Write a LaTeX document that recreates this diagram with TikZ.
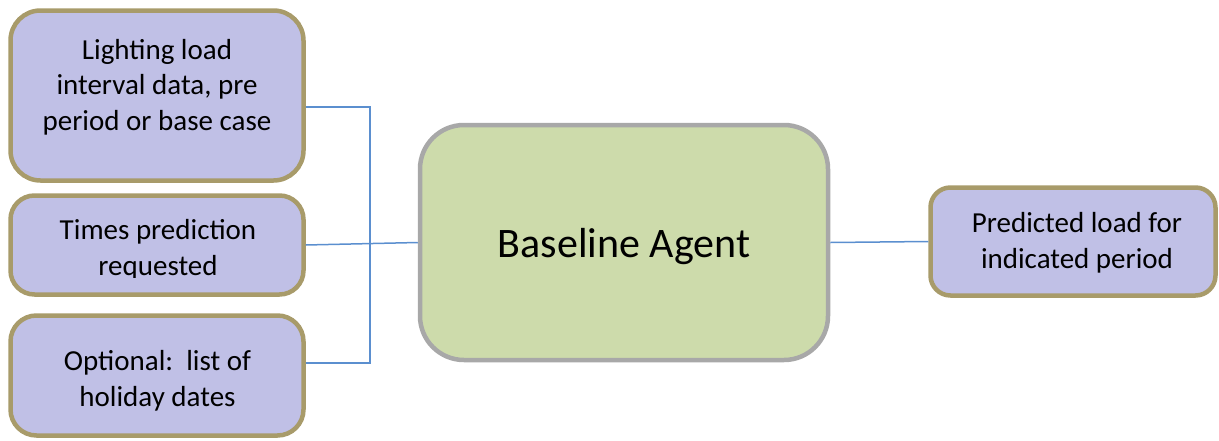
\documentclass[tikz,border=0pt]{standalone}
\usepackage{fontspec}
\setmainfont{Carlito}
\definecolor{inputfill}{HTML}{C0C0E6}
\definecolor{inputline}{HTML}{A89B6A}
\definecolor{agentfill}{HTML}{CDDBAB}
\definecolor{agentline}{HTML}{A8A8A8}
\definecolor{linkblue}{HTML}{5B8FCF}
\tikzset{
  inbox/.style={draw=inputline, fill=inputfill, line width=4.5pt, inner sep=0pt},
  agentbox/.style={draw=agentline, fill=agentfill, line width=4.5pt, inner sep=0pt,
    rounded corners=44pt},
  lbl/.style={align=center, inner sep=0pt, font=\fontsize{29}{35.5}\selectfont},
  biglbl/.style={inner sep=0pt, font=\fontsize{42}{50}\selectfont},
  link/.style={draw=linkblue, line width=1.5pt},
}
\begin{document}
\begin{tikzpicture}[x=1pt, y=-1pt]
\useasboundingbox (0,0) rectangle (1219,440);

% input boxes
\node[inbox, rounded corners=30pt, minimum width=293pt, minimum height=170pt] (b1) at (157,95.5) {};
\node[inbox, rounded corners=24pt, minimum width=293pt, minimum height=99pt] (b2) at (157,245) {};
\node[inbox, rounded corners=26pt, minimum width=293pt, minimum height=120pt] (b3) at (157,375.5) {};

% agent and output
\node[agentbox, minimum width=408pt, minimum height=235pt] (agent) at (624,242.5) {};
\node[inbox, rounded corners=20pt, minimum width=285pt, minimum height=108pt] (out) at (1073,241.5) {};

% texts
\node[lbl] (t1) at (157,87) {Lighting load\\interval data, pre\\period or base case};
\begin{scope}
  \clip (0,190) rectangle (320,277);
  \node[lbl] (t2) at (158,250) {Times prediction\\requested};
\end{scope}
\node[lbl] (t3) at (157.5,381) {Optional:\ \ list of\\holiday dates};
\node[biglbl] (ta) at (624,247) {Baseline Agent};
\node[lbl] (to) at (1077,243) {Predicted load for\\indicated period};

% connectors
\coordinate (j1) at ([yshift=-11.5pt]b1.east);
\coordinate (j3) at ([yshift=12.5pt]b3.east);
\draw[link] (j1) -- ++(64,0) |- (j3);
\draw[link] (b2.east) -- (agent.west);
\draw[link] (agent.east) -- (out.west);
\end{tikzpicture}
\end{document}
